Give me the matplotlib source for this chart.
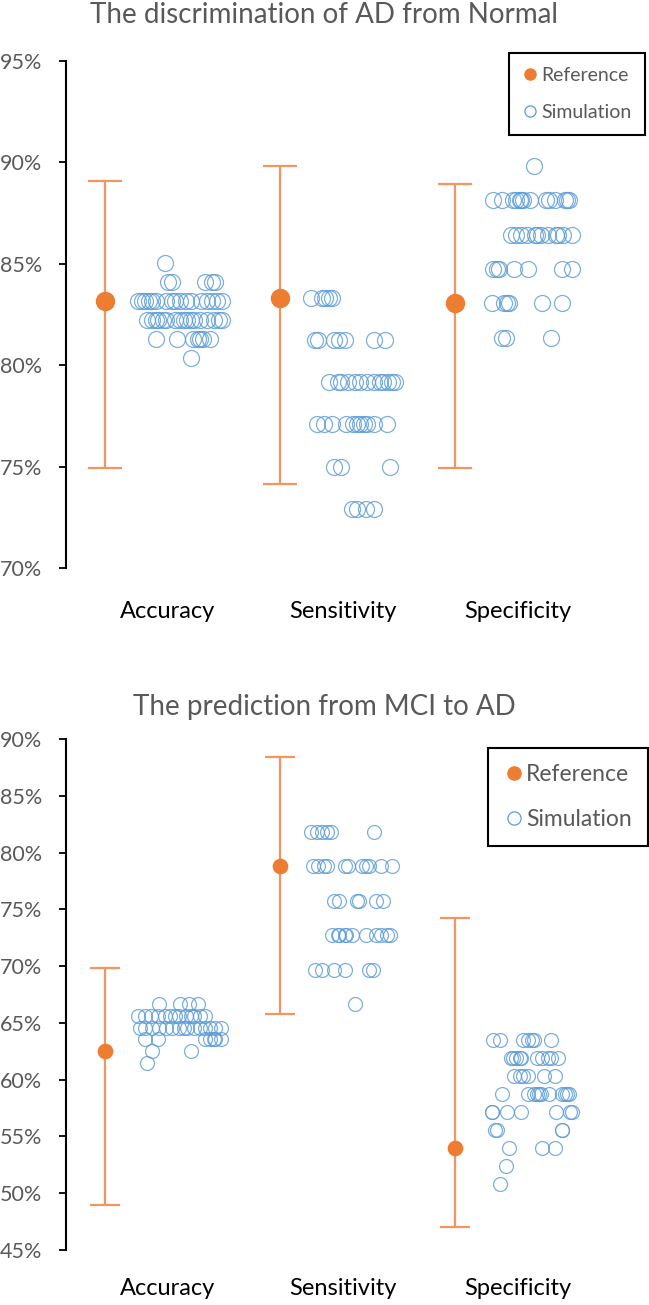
import matplotlib.pyplot as plt
from matplotlib.lines import Line2D
from matplotlib.ticker import FuncFormatter, MultipleLocator

plt.rcParams['font.family'] = ['Lato', 'DejaVu Sans']

categories = ["Accuracy", "Sensitivity", "Specificity"]

# The discrimination of AD from Normal (%)
ad_ref = [83.18, 83.33, 83.05]
ad_ref_low = [74.95, 74.16, 74.95]
ad_ref_high = [89.09, 89.83, 88.94]

# simulation results: value -> horizontal jitter (in category units)
ad_acc_sim = {
    85.05: [0.34],
    84.11: [0.36, 0.38, 0.57, 0.61, 0.63],
    83.18: [0.19, 0.21, 0.23, 0.25, 0.27, 0.29, 0.35, 0.38, 0.40, 0.43, 0.46, 0.49, 0.55, 0.58, 0.61, 0.64, 0.67],
    82.24: [0.24, 0.27, 0.29, 0.30, 0.33, 0.35, 0.40, 0.43, 0.45, 0.47, 0.49, 0.51, 0.54, 0.58, 0.62, 0.65, 0.67],
    81.31: [0.29, 0.41, 0.50, 0.53, 0.54, 0.56, 0.60],
    80.37: [0.49],
}
ad_sen_sim = {
    83.33: [0.18, 0.24, 0.26, 0.28, 0.30],
    81.25: [0.20, 0.22, 0.31, 0.34, 0.37, 0.54, 0.60],
    79.17: [0.28, 0.33, 0.35, 0.39, 0.43, 0.46, 0.50, 0.54, 0.57, 0.59, 0.62, 0.64, 0.66],
    77.08: [0.21, 0.25, 0.30, 0.38, 0.42, 0.44, 0.46, 0.48, 0.50, 0.54, 0.61],
    75.00: [0.31, 0.35, 0.63],
    72.92: [0.41, 0.44, 0.49, 0.54],
}
ad_spe_sim = {
    89.83: [0.45],
    88.14: [0.22, 0.27, 0.33, 0.35, 0.37, 0.38, 0.39, 0.43, 0.52, 0.54, 0.57, 0.63, 0.64, 0.65],
    86.44: [0.32, 0.35, 0.38, 0.41, 0.46, 0.47, 0.49, 0.53, 0.58, 0.59, 0.62, 0.67],
    84.75: [0.22, 0.24, 0.25, 0.34, 0.42, 0.61, 0.67],
    83.05: [0.21, 0.28, 0.30, 0.31, 0.50, 0.61],
    81.36: [0.27, 0.29, 0.55],
}

# The prediction from MCI to AD (%)
mci_ref = [62.50, 78.79, 53.97]
mci_ref_low = [49.0, 65.8, 47.0]
mci_ref_high = [69.8, 88.4, 74.2]

mci_acc_sim = {
    66.67: [0.31, 0.43, 0.48, 0.53],
    65.63: [0.19, 0.23, 0.26, 0.30, 0.34, 0.37, 0.40, 0.42, 0.46, 0.49, 0.51, 0.54, 0.57],
    64.58: [0.20, 0.23, 0.27, 0.31, 0.35, 0.38, 0.42, 0.45, 0.47, 0.51, 0.54, 0.57, 0.60, 0.63, 0.66],
    63.54: [0.23, 0.30, 0.57, 0.60, 0.62, 0.63, 0.66],
    62.50: [0.27, 0.49],
    61.46: [0.24],
}
mci_sen_sim = {
    81.82: [0.18, 0.21, 0.24, 0.27, 0.29, 0.54],
    78.79: [0.19, 0.22, 0.25, 0.27, 0.37, 0.39, 0.47, 0.49, 0.51, 0.58, 0.64],
    75.76: [0.31, 0.34, 0.44, 0.45, 0.55, 0.59],
    72.73: [0.30, 0.33, 0.34, 0.37, 0.38, 0.41, 0.49, 0.55, 0.58, 0.61, 0.63],
    69.70: [0.20, 0.24, 0.31, 0.37, 0.51, 0.53],
    66.67: [0.43],
}
mci_spe_sim = {
    63.49: [0.22, 0.26, 0.39, 0.42, 0.44, 0.45, 0.55],
    61.90: [0.32, 0.33, 0.35, 0.37, 0.38, 0.47, 0.50, 0.53, 0.55, 0.59],
    60.32: [0.34, 0.37, 0.39, 0.42, 0.51, 0.57],
    58.73: [0.27, 0.42, 0.45, 0.47, 0.48, 0.49, 0.54, 0.61, 0.63, 0.64, 0.65],
    57.14: [0.21, 0.21, 0.30, 0.38, 0.58, 0.66, 0.67],
    55.56: [0.23, 0.24, 0.61, 0.61],
    53.97: [0.31, 0.50, 0.57],
    52.38: [0.29],
    50.79: [0.26],
}

ORANGE = '#ED7D31'
BLUE = '#5B9BD5'
GREY = '#595959'

W, H = 649, 1305
fig = plt.figure(figsize=(W / 100, H / 100), dpi=100)


def draw(ax, ref, low, high, sims, ylim, ms, ref_ms, cap, leg_fs, leg_anchor, leg_ms, xpad):
    for i in range(len(categories)):
        ax.errorbar(i, ref[i], yerr=[[ref[i] - low[i]], [high[i] - ref[i]]],
                    fmt='o', color=ORANGE, ecolor='#F29660', elinewidth=1.6,
                    capsize=cap, capthick=1.6, markersize=ref_ms, zorder=3)
        xs, ys = [], []
        for v, offs in sims[i].items():
            for o in offs:
                xs.append(i + o)
                ys.append(v)
        ax.plot(xs, ys, 'o', mfc='none', mec=BLUE, mew=0.9, ms=ms, alpha=0.8, zorder=2)

    ax.set_xlim(-0.223, 3.086)
    ax.set_ylim(*ylim)
    ax.yaxis.set_major_locator(MultipleLocator(5))
    ax.yaxis.set_major_formatter(FuncFormatter(lambda v, p: f"{v:.0f}%"))
    ax.tick_params(axis='y', labelsize=15.5, labelcolor=GREY, color='black',
                   length=5, width=1.3, pad=12)
    ax.set_xticks([i + 0.36 for i in range(len(categories))])
    ax.set_xticklabels(categories, fontsize=17, color='black')
    ax.tick_params(axis='x', length=0, pad=xpad)
    for s in ['top', 'right', 'bottom']:
        ax.spines[s].set_visible(False)
    ax.spines['left'].set_linewidth(1.5)

    handles = [
        Line2D([], [], ls='none', marker='o', color=ORANGE, ms=leg_ms),
        Line2D([], [], ls='none', marker='o', mfc='none', mec=BLUE, mew=0.9, ms=leg_ms),
    ]
    leg = ax.legend(handles, ['Reference', 'Simulation'], loc='upper right',
                    bbox_to_anchor=leg_anchor, bbox_transform=fig.transFigure,
                    fontsize=leg_fs, frameon=True, fancybox=False, framealpha=1,
                    edgecolor='black', labelspacing=1.05, handletextpad=0.15,
                    handlelength=0.8, borderpad=0.7, borderaxespad=0, labelcolor=GREY)
    leg.get_frame().set_linewidth(1.5)


ax1 = fig.add_axes([66 / W, 1 - 568 / H, 579 / W, 507 / H])
draw(ax1, ad_ref, ad_ref_low, ad_ref_high, [ad_acc_sim, ad_sen_sim, ad_spe_sim],
     (70, 95), 11.5, 13, 12, 14, (645 / W, 1 - 53 / H), 8, 24)
fig.text(0.5, 1 - 15 / H, "The discrimination of AD from Normal", ha='center', va='center',
         fontsize=20, color=GREY)

ax2 = fig.add_axes([66 / W, 1 - 1250 / H, 579 / W, 511 / H])
draw(ax2, mci_ref, mci_ref_low, mci_ref_high, [mci_acc_sim, mci_sen_sim, mci_spe_sim],
     (45, 90), 10, 10.3, 11, 16.5, (648 / W, 1 - 748 / H), 9.5, 20)
fig.text(0.5, 1 - 707 / H, "The prediction from MCI to AD", ha='center', va='center',
         fontsize=20, color=GREY)

fig.savefig("out.png", dpi=100)
